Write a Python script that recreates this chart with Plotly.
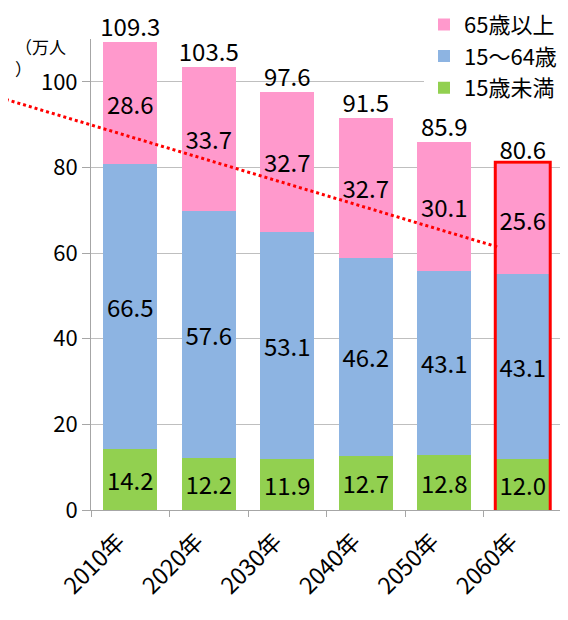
import plotly.graph_objects as go

years = ["2010年", "2020年", "2030年", "2040年", "2050年", "2060年"]
under15 = [14.2, 12.2, 11.9, 12.7, 12.8, 12.0]
age15_64 = [66.5, 57.6, 53.1, 46.2, 43.1, 43.1]
over65 = [28.6, 33.7, 32.7, 32.7, 30.1, 25.6]
totals = [109.3, 103.5, 97.6, 91.5, 85.9, 80.6]

FONT = "Noto Sans CJK JP"
fs = 24

fig = go.Figure()
for name, vals, col in [("15歳未満", under15, "#92D050"),
                        ("15～64歳", age15_64, "#8DB4E2"),
                        ("65歳以上", over65, "#FF99CC")]:
    fig.add_trace(go.Bar(
        x=years, y=vals, name=name, marker=dict(color=col, line=dict(width=0)),
        text=["%.1f" % v for v in vals], textposition="inside",
        insidetextanchor="middle", textangle=0,
        textfont=dict(size=fs, color="black", family=FONT),
        hoverinfo="skip",
    ))

# totals above bars
fig.add_trace(go.Scatter(
    x=years, y=totals, mode="text", text=["%.1f" % v for v in totals],
    textposition="top center", textfont=dict(size=fs, color="black", family=FONT),
    showlegend=False, hoverinfo="skip", cliponaxis=False,
))

# red box around 2060
last = len(years) - 1
fig.add_shape(type="rect", xref="x", yref="y",
              x0=last - 0.35, x1=last + 0.35, y0=-0.4, y1=totals[-1] + 0.6,
              line=dict(color="#FF0000", width=3))

# dotted trend line (decoration)
fig.add_shape(type="line", xref="paper", yref="y",
              x0=-0.193, y0=96.3, x1=0.864, y1=61.4,
              line=dict(color="#FF0000", width=3, dash="dot"))

fig.add_annotation(text="（万人<br>）", xref="paper", yref="paper",
                   x=-0.165, y=1.015, xanchor="left", yanchor="top", align="left",
                   showarrow=False, font=dict(size=17, color="black", family=FONT))

fig.update_layout(
    barmode="stack",
    bargap=0.31,
    width=560, height=612,
    margin=dict(l=83, r=6, t=31, b=110, autoexpand=False),
    plot_bgcolor="white", paper_bgcolor="white",
    font=dict(family=FONT, size=fs, color="black"),
    showlegend=True,
    legend=dict(x=1.0, xanchor="right", y=1.075, yanchor="top",
                traceorder="reversed", bgcolor="white",
                font=dict(size=22, family=FONT), itemwidth=30,
                tracegroupgap=0),
)
fig.update_yaxes(range=[0, 110], dtick=20, showgrid=True, gridcolor="#BFBFBF",
                 showline=True, linecolor="#A6A6A6", ticks="outside",
                 tickcolor="#A6A6A6", ticklen=8, zeroline=False,
                 tickfont=dict(size=22), automargin=False)
fig.update_xaxes(showline=True, linecolor="#A6A6A6", ticks="outside",
                 tickcolor="#A6A6A6", ticklen=6, tickson="boundaries",
                 tickangle=-45, tickfont=dict(size=23), automargin=False,
                 ticklabelstandoff=8, ticklabelshift=-12)

fig.write_html("out.html")
